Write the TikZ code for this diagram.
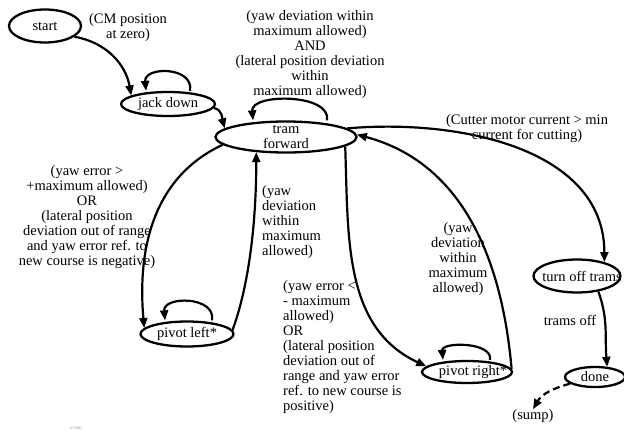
\documentclass[tikz,border=0pt]{standalone}
\usepackage{fontspec}
\setmainfont{Liberation Serif}
\usetikzlibrary{shapes.geometric,arrows.meta}
\begin{document}
\begin{tikzpicture}[x=1pt,y=-1pt,
  font=\fontsize{14.5}{15}\selectfont,
  state/.style={ellipse,draw,line width=2.3pt,inner sep=0pt},
  arr/.style={line width=2.2pt,-{Triangle[length=10pt,width=8pt]}},
  lbl/.style={align=center,inner sep=0pt}]
\useasboundingbox (0,0) rectangle (624,431);
\node[state,minimum width=72pt,minimum height=33pt,label=center:start] (start) at (45,26) {};
\node[state,minimum width=94pt,minimum height=24pt,label=center:jack down] (jack) at (168,104) {};
\node[state,minimum width=141pt,minimum height=31pt,label={[align=center]center:tram\\forward}] (tram) at (286,137) {};
\node[state,minimum width=93pt,minimum height=25pt,label=center:pivot left*] (pleft) at (187,334) {};
\node[state,minimum width=90pt,minimum height=22pt,label={[xshift=6pt]center:pivot right*}] (pright) at (467,372) {};
\node[state,minimum width=87pt,minimum height=33pt,label={[xshift=5pt]center:turn off trams}] (turnoff) at (577,276) {};
\node[state,minimum width=60pt,minimum height=20pt,label=center:done] (done) at (595,377) {};
\node[lbl] (cm) at (128,28) {(CM position\\at zero)};
\node[lbl] (yawand) at (310,55) {(yaw deviation within\\maximum allowed)\\AND\\(lateral position deviation\\within\\maximum allowed)};
\node[lbl] (yawneg) at (87,217) {(yaw error >\\+maximum allowed)\\OR\\(lateral position\\deviation out of range\\and yaw error ref. to\\new course is negative)};
\node[lbl,align=left,anchor=west] (devl) at (262,222) {(yaw\\deviation\\within\\maximum\\allowed)};
\node[lbl,align=left,anchor=north west] (yawpos) at (283,280) {(yaw error <\\- maximum\\allowed)\\OR\\(lateral position\\deviation out of\\range and yaw error\\ref. to new course is\\positive)};
\node[lbl] (devr) at (458,259) {(yaw\\deviation\\within\\maximum\\allowed)};
\node[lbl] (cutter) at (527,129) {(Cutter motor current > min\\current for cutting)};
\node[lbl] (tramsoff) at (570,320) {trams off};
\node[lbl] (sump) at (533,416) {(sump)};
\node[lbl,font=\fontsize{4}{4}\selectfont,text=gray] (date) at (76,428) {2/13/01};
\draw[arr] (start.-20) to[out=-10,in=100] (jack.167);
\draw[arr] ([xshift=22pt]jack.north) to[out=80,in=95,looseness=1.45] ([xshift=-22pt]jack.north);
\draw[arr] (jack.-5) to[out=-10,in=105] (tram.172);
\draw[arr] ([xshift=41pt]tram.north) to[out=80,in=95,looseness=0.95] ([xshift=-33pt]tram.north);
\draw[arr] (tram.187) to[out=205,in=95] (pleft.172);
\draw[arr] ([xshift=25pt]pleft.north) to[out=80,in=95,looseness=1.35] ([xshift=-22pt]pleft.north);
\draw[arr] (pleft.5) to[out=70,in=-90,looseness=0.8] (tram.207);
\draw[arr] (tram.-9) to[out=-88,in=155] (pright.172);
\draw[arr] ([xshift=23pt]pright.north) to[out=80,in=95,looseness=1] ([xshift=-24pt]pright.north);
\draw[arr] (pright.4) to[out=95,in=-15] (tram.2);
\draw[arr] (tram.8) to[out=5,in=90] (turnoff.27);
\draw[arr] (turnoff.-36) to[out=-70,in=95] (done.40);
\draw[arr,dash pattern=on 7pt off 4pt] (done.195) to[out=195,in=60] (sump.north);
\end{tikzpicture}
\end{document}
